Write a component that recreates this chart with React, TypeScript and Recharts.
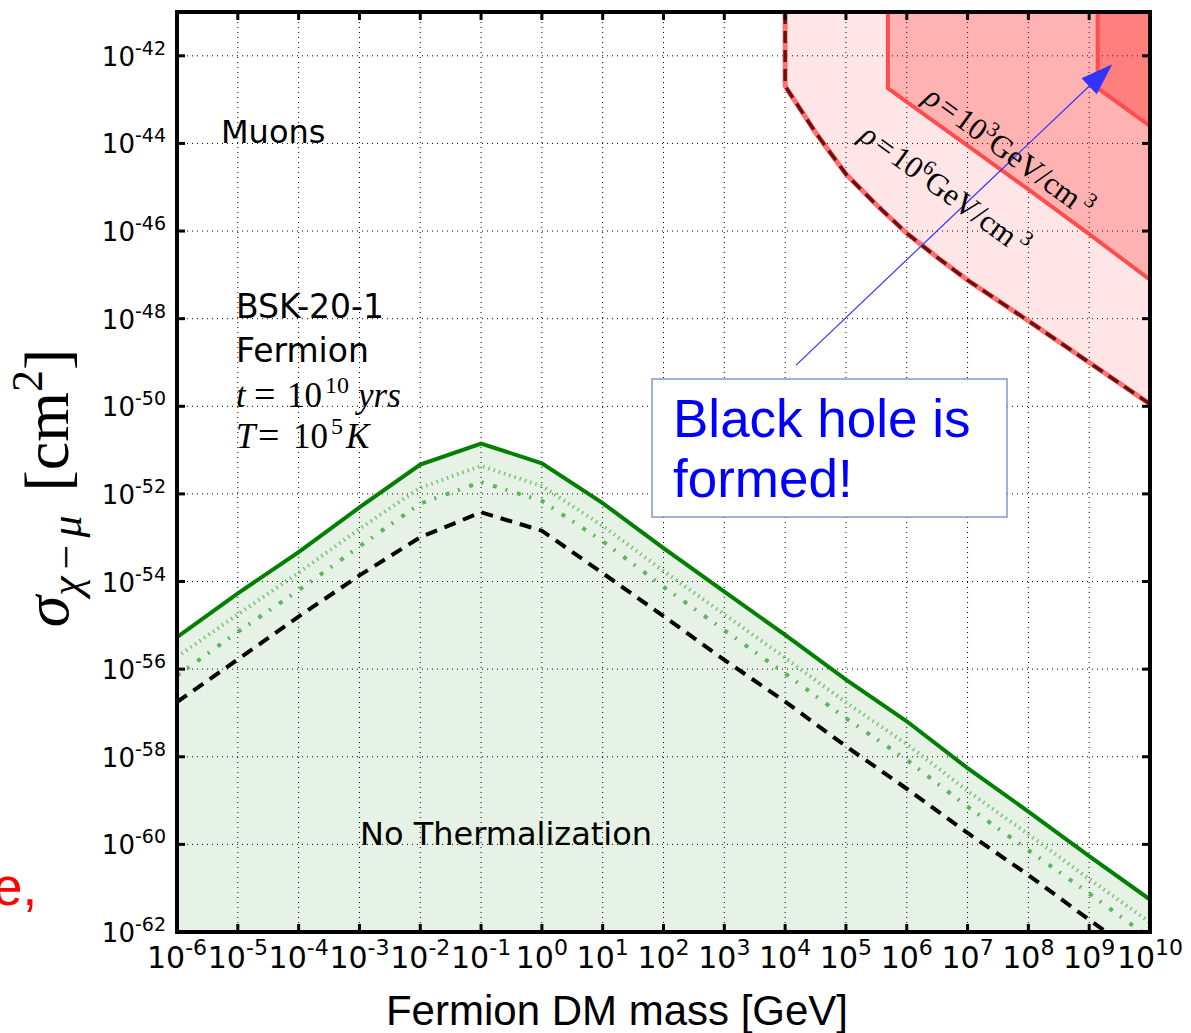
import React from 'react';
import { ComposedChart, Area, Line, XAxis, YAxis, CartesianGrid, ReferenceLine } from 'recharts';

// log10 of the fermion DM mass [GeV]
const massExp = [-6, -5, -4, -3, -2, -1, 0, 1, 2, 3, 4, 5, 6, 7, 8, 9, 10];
// log10 of the DM-muon cross-section [cm^2] for each curve
const sigmaSolid = [-55.27, -54.27, -53.33, -52.31, -51.33, -50.85, -51.3, -52.21, -53.24, -54.23, -55.22, -56.24, -57.19, -58.26, -59.25, -60.27, -61.26];
const sigmaLightDotted = [-55.72, -54.75, -53.8, -52.8, -51.86, -51.36, -51.82, -52.73, -53.76, -54.75, -55.74, -56.76, -57.71, -58.78, -59.77, -60.79, -61.78];
const sigmaMediumDotted = [-56.15, -55.15, -54.2, -53.2, -52.22, -51.73, -52.16, -53.08, -54.12, -55.11, -56.1, -57.12, -58.07, -59.14, -60.13, -61.12, -62.14];
const sigmaDashed = [-56.75, -55.78, -54.8, -53.86, -52.99, -52.42, -52.84, -53.81, -54.79, -55.79, -56.74, -57.76, -58.73, -59.74, -60.7, -61.72, -62.72];

// black-hole formation regions (upper-right corner)
const rho6Mass = [4, 4, 4.5, 5, 5.5, 6, 6.5, 7, 8, 9, 10];
const rho6Sigma = [-41, -42.69, -43.75, -44.7, -45.4, -46.05, -46.6, -47.12, -48.05, -49.0, -49.95];
const rho3Mass = [5.69, 5.69, 6, 7, 8, 9, 10];
const rho3Sigma = [-41, -42.74, -43.05, -44.05, -45.05, -46.07, -47.11];
const innerMass = [9.14, 9.14, 10];
const innerSigma = [-41, -42.74, -43.6];

const xTicks = [-6, -5, -4, -3, -2, -1, 0, 1, 2, 3, 4, 5, 6, 7, 8, 9, 10];
const yTicks = [-62, -60, -58, -56, -54, -52, -50, -48, -46, -44, -42];

// annotation arrow, in (log mass, log sigma)
const arrowFrom = { x: 4.18, y: -49.06 };
const arrowTo = { x: 9.38, y: -42.19 };

const pts = (xs: number[], ys: number[]) => xs.map((x, i) => ({ x, y: ys[i] }));

const solidData = pts(massExp, sigmaSolid);
const greenAreaData = [{ x: -6, y: -62 }, ...solidData];
const lightDottedData = pts(massExp, sigmaLightDotted);
const mediumDottedData = pts(massExp, sigmaMediumDotted);
const dashedData = pts(massExp, sigmaDashed);
const rho6Data = pts(rho6Mass, rho6Sigma);
const rho3Data = pts(rho3Mass, rho3Sigma);
const innerData = pts(innerMass, innerSigma);

const W = 1191;
const H = 1033;
const tickFont = 'DejaVu Sans';

const BottomTick = (p: any) => (
  <g>
    <line x1={p.x} x2={p.x} y1={p.y} y2={p.y - 8} stroke="#000" strokeWidth={3} />
    <text x={p.x} y={p.y + 36} textAnchor="middle" fontFamily={tickFont} fontSize={30} fill="#000">
      10<tspan dy={-13} fontSize={22}>{p.payload.value}</tspan>
    </text>
  </g>
);

const TopTick = (p: any) => (
  <line x1={p.x} x2={p.x} y1={p.y} y2={p.y + 8} stroke="#000" strokeWidth={3} />
);

const LeftTick = (p: any) => (
  <g>
    <line x1={p.x} x2={p.x + 8} y1={p.y} y2={p.y} stroke="#000" strokeWidth={3} />
    <text x={p.x - 11} y={p.y + 10} textAnchor="end" fontFamily={tickFont} fontSize={26} fill="#000">
      10<tspan dy={-11} fontSize={19}>{p.payload.value}</tspan>
    </text>
  </g>
);

const RightTick = (p: any) => (
  <line x1={p.x} x2={p.x - 8} y1={p.y} y2={p.y} stroke="#000" strokeWidth={3} />
);

const Arrow = (p: any) => {
  const { x1, y1, x2, y2 } = p;
  const dx = x2 - x1;
  const dy = y2 - y1;
  const len = Math.hypot(dx, dy);
  const ux = dx / len;
  const uy = dy / len;
  const headLen = 32;
  const halfW = 11;
  const bx = x2 - ux * headLen;
  const by = y2 - uy * headLen;
  const head = `${x2},${y2} ${bx - uy * halfW},${by + ux * halfW} ${bx + uy * halfW},${by - ux * halfW}`;
  return (
    <g>
      <line x1={x1} y1={y1} x2={bx} y2={by} stroke="#3333ff" strokeWidth={1.2} />
      <polygon points={head} fill="#3333ff" />
    </g>
  );
};

const axisLine = { stroke: '#000', strokeWidth: 4, strokeLinecap: 'square' as const };

export default function App() {
  return (
    <div style={{ position: 'absolute', left: 0, top: 0, width: W, height: H, background: '#fff', overflow: 'hidden' }}>
      <ComposedChart
        width={W}
        height={H}
        margin={{ top: 2, right: 31, bottom: 41, left: 117 }}
        style={{ position: 'absolute', left: 0, top: 0 }}
      >
        <CartesianGrid stroke="#000" strokeDasharray="1 4" strokeWidth={1} />
        <XAxis
          type="number"
          dataKey="x"
          domain={[-6, 10]}
          ticks={xTicks}
          interval={0}
          allowDataOverflow
          height={60}
          tickSize={0}
          tickMargin={0}
          tickLine={false}
          axisLine={axisLine}
          tick={<BottomTick />}
        />
        <XAxis
          xAxisId="top"
          orientation="top"
          type="number"
          dataKey="x"
          domain={[-6, 10]}
          ticks={xTicks}
          interval={0}
          allowDataOverflow
          height={10}
          tickSize={0}
          tickMargin={0}
          tickLine={false}
          axisLine={axisLine}
          tick={<TopTick />}
        />
        <YAxis
          type="number"
          domain={[-62, -41]}
          ticks={yTicks}
          interval={0}
          allowDataOverflow
          width={60}
          tickSize={0}
          tickMargin={0}
          tickLine={false}
          axisLine={axisLine}
          tick={<LeftTick />}
        />
        <YAxis
          yAxisId="right"
          orientation="right"
          type="number"
          domain={[-62, -41]}
          ticks={yTicks}
          interval={0}
          allowDataOverflow
          width={10}
          tickSize={0}
          tickMargin={0}
          tickLine={false}
          axisLine={axisLine}
          tick={<RightTick />}
        />

        <Area data={rho6Data} dataKey="y" type="linear" baseValue="dataMax" fill="rgb(255,0,0)" fillOpacity={0.1} stroke="#ff6f6f" strokeWidth={5} isAnimationActive={false} />
        <Area data={rho3Data} dataKey="y" type="linear" baseValue="dataMax" fill="rgb(255,0,0)" fillOpacity={0.22} stroke="#ff4d4d" strokeWidth={4} isAnimationActive={false} />
        <Area data={innerData} dataKey="y" type="linear" baseValue="dataMax" fill="rgb(255,0,0)" fillOpacity={0.29} stroke="#ff4d4d" strokeWidth={4} isAnimationActive={false} />
        <Area data={greenAreaData} dataKey="y" type="linear" baseValue="dataMin" fill="rgb(0,128,0)" fillOpacity={0.1} stroke="#007f00" strokeWidth={4} isAnimationActive={false} />

        <Line data={rho6Data} dataKey="y" type="linear" stroke="#6e0f0f" strokeWidth={3.5} strokeDasharray="12 7" dot={false} isAnimationActive={false} />
        <Line data={lightDottedData} dataKey="y" type="linear" stroke="#7cc27c" strokeWidth={4} strokeDasharray="1.5 4" dot={false} isAnimationActive={false} />
        <Line data={mediumDottedData} dataKey="y" type="linear" stroke="#5fb45f" strokeWidth={4} strokeDasharray="4 9 2 10" dot={false} isAnimationActive={false} />
        <Line data={dashedData} dataKey="y" type="linear" stroke="#000" strokeWidth={4} strokeDasharray="12 8" dot={false} isAnimationActive={false} />

        <ReferenceLine segment={[arrowFrom, arrowTo]} ifOverflow="visible" shape={<Arrow />} />
      </ComposedChart>

      <svg width={W} height={H} style={{ position: 'absolute', left: 0, top: 0, pointerEvents: 'none' }}>
        <text x={221} y={143} fontFamily="DejaVu Sans" fontSize={32} fill="#000">Muons</text>
        <text x={236} y={318} fontFamily="DejaVu Sans" fontSize={33} fill="#000">BSK-20-1</text>
        <text x={236} y={362} fontFamily="DejaVu Sans" fontSize={33} fill="#000">Fermion</text>
        <text y={407} fontFamily="Liberation Serif" fontSize={35} fill="#000">
          <tspan x={236} fontStyle="italic">t</tspan>
          <tspan x={254} fontSize={38}>=</tspan>
          <tspan x={287}>10</tspan>
          <tspan x={325} dy={-14} fontSize={24}>10</tspan>
          <tspan x={358} dy={14} fontStyle="italic">yrs</tspan>
        </text>
        <text y={448} fontFamily="Liberation Serif" fontSize={35} fill="#000">
          <tspan x={236} fontStyle="italic">T</tspan>
          <tspan x={258} fontSize={38}>=</tspan>
          <tspan x={293}>10</tspan>
          <tspan x={331} dy={-14} fontSize={24}>5</tspan>
          <tspan x={346} dy={14} fontStyle="italic">K</tspan>
        </text>
        <text x={360} y={845} fontFamily="DejaVu Sans" fontSize={32} fill="#000">No Thermalization</text>

        <g transform="translate(922,101) rotate(36)">
          <text x={0} y={0} fontFamily="Liberation Serif" fontSize={31} fill="#000">
            <tspan fontStyle="italic">ρ</tspan>
            <tspan dx={3}>=</tspan>
            <tspan dx={3}>10</tspan>
            <tspan dy={-12} fontSize={21}>3</tspan>
            <tspan dy={12}>GeV/cm</tspan>
            <tspan dy={-12} dx={5} fontSize={21}>3</tspan>
          </text>
        </g>
        <g transform="translate(858,139) rotate(36)">
          <text x={0} y={0} fontFamily="Liberation Serif" fontSize={31} fill="#000">
            <tspan fontStyle="italic">ρ</tspan>
            <tspan dx={3}>=</tspan>
            <tspan dx={3}>10</tspan>
            <tspan dy={-12} fontSize={21}>6</tspan>
            <tspan dy={12}>GeV/cm</tspan>
            <tspan dy={-12} dx={5} fontSize={21}>3</tspan>
          </text>
        </g>

        <rect x={652} y={379} width={355} height={138} fill="#fff" stroke="#7f9cc9" strokeWidth={1.5} />
        <text x={673} y={437} fontFamily="Liberation Sans" fontSize={53} fill="#0000ff">Black hole is</text>
        <text x={673} y={497} fontFamily="Liberation Sans" fontSize={53} fill="#0000ff">formed!</text>

        <text x={-7} y={905} fontFamily="Liberation Sans" fontSize={53} fill="#ff0000">e,</text>

        <text x={617} y={1025} textAnchor="middle" fontFamily="Liberation Sans" fontSize={42} fill="#000">Fermion DM mass [GeV]</text>

        <text transform="translate(68,488) rotate(-90)" textAnchor="middle" fontFamily="Liberation Serif" fontSize={64} fill="#000">
          <tspan fontStyle="italic">σ</tspan>
          <tspan fontSize={44} fontStyle="italic" dy={13}>χ</tspan>
          <tspan fontSize={44} dx={7}>−</tspan>
          <tspan fontSize={44} fontStyle="italic" dx={7}>μ</tspan>
          <tspan dy={-13} dx={24}>[cm</tspan>
          <tspan fontSize={44} dy={-26}>2</tspan>
          <tspan dy={26}>]</tspan>
        </text>
      </svg>
    </div>
  );
}
